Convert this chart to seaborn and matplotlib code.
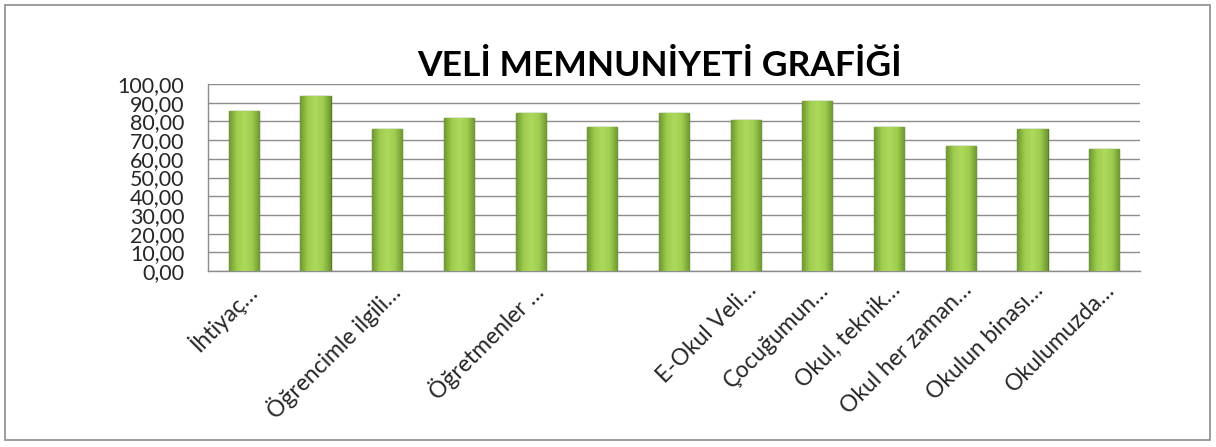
import numpy as np
import pandas as pd
import seaborn as sns
import matplotlib.pyplot as plt
from matplotlib.patches import Rectangle
from matplotlib.colors import LinearSegmentedColormap
from matplotlib.ticker import FuncFormatter, MultipleLocator

categories = ['İhtiyaç…', 'c2', 'Öğrencimle ilgili…', 'c4', 'Öğretmenler …', 'c6', 'c7',
              'E-Okul Veli…', 'Çocuğumun…', 'Okul, teknik…', 'Okul her zaman…',
              'Okulun binası…', 'Okulumuzda…']
tick_labels = ['İhtiyaç…', '', 'Öğrencimle ilgili…', '', 'Öğretmenler …', '', '',
               'E-Okul Veli…', 'Çocuğumun…', 'Okul, teknik…', 'Okul her zaman…',
               'Okulun binası…', 'Okulumuzda…']
values = [85.7, 93.6, 75.8, 82.0, 84.7, 77.2, 84.7, 80.6, 90.7, 77.2, 67.0, 75.8, 65.0]

df = pd.DataFrame({'soru': categories, 'puan': values})

sns.set_style('white')
plt.rcParams['font.family'] = ['Lato', 'DejaVu Sans']

fig = plt.figure(figsize=(12.16, 4.47), dpi=100)
ax = fig.add_axes([208 / 1216, 1 - 271 / 447, (1140 - 208) / 1216, (271 - 84) / 447])

sns.barplot(data=df, x='soru', y='puan', color='#92C043', width=0.42,
            edgecolor='#5A7A22', linewidth=1.0, saturation=1, ax=ax, zorder=3)

# bevel-like shading on each bar
cmap = LinearSegmentedColormap.from_list('bevel', ['#6E9832', '#9FCD4E', '#ADD95E', '#9FCD4E', '#6E9832'])
grad = np.linspace(0, 1, 64).reshape(1, -1)
for p in list(ax.patches):
    x0, w, h = p.get_x(), p.get_width(), p.get_height()
    im = ax.imshow(grad, cmap=cmap, aspect='auto', extent=(x0, x0 + w, 0, h), zorder=3.5)
    im.set_clip_path(p)

ax.set_ylim(0, 100)
ax.set_xlim(-0.5, len(categories) - 0.5)
ax.yaxis.set_major_locator(MultipleLocator(10))
ax.yaxis.set_major_formatter(FuncFormatter(lambda v, p: f'{v:.2f}'.replace('.', ',')))
ax.grid(axis='y', color='#8C8C8C', linewidth=1.0, zorder=0)
ax.set_axisbelow(True)

ax.set_xticks(range(len(categories)))
ax.set_xticklabels(tick_labels, rotation=45, ha='right', rotation_mode='anchor', fontsize=16.5)
ax.set_xticks(np.arange(-0.5, len(categories), 1), minor=True)
ax.tick_params(axis='x', which='major', length=0, pad=6)
ax.tick_params(axis='x', which='minor', length=6, color='#8C8C8C', direction='out', width=1)
ax.tick_params(axis='y', labelsize=15.5, length=0, pad=17)

ax.set_xlabel('')
ax.set_ylabel('')
for s in ['top', 'right']:
    ax.spines[s].set_visible(False)
for s in ['left', 'bottom']:
    ax.spines[s].set_color('#8C8C8C')
    ax.spines[s].set_linewidth(1.0)

fig.text(660 / 1216, 1 - 66 / 447, 'VELİ MEMNUNİYETİ GRAFİĞİ', ha='center', va='center',
         fontsize=25.5, fontweight='bold', color='black')

fig.patches.append(Rectangle((5 / 1216, 7 / 447), 1205 / 1216, 435 / 447, transform=fig.transFigure,
                             fill=False, edgecolor='#8C8C8C', linewidth=1.2))

fig.savefig('out.png', dpi=100)
